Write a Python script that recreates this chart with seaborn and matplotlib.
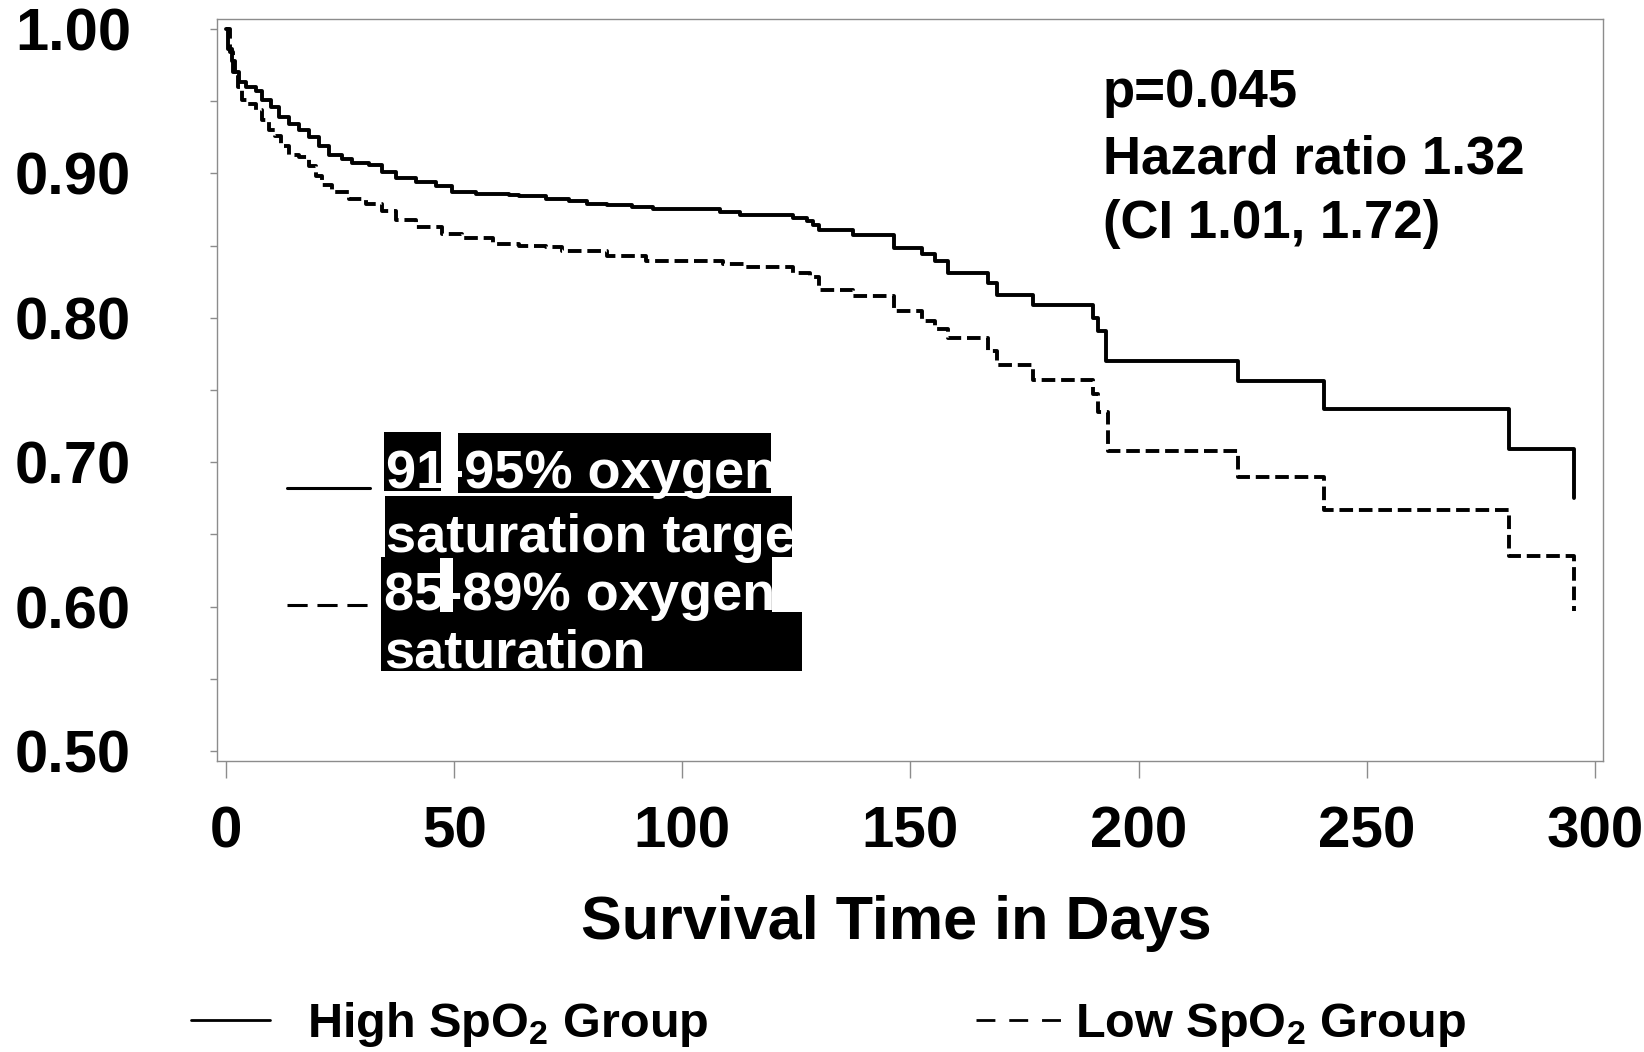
import matplotlib
matplotlib.use("Agg")
import matplotlib.pyplot as plt
from matplotlib import font_manager
from matplotlib.lines import Line2D
from matplotlib.patches import Rectangle
import pandas as pd
import seaborn as sns

# Kaplan-Meier step estimates (day of step, survival from that day on)
days_high = [0, 0.5, 1.2, 2.0, 2.8, 4.3, 6.5, 7.9, 9.8, 11.5, 13.7, 15.9, 18.1, 20.3,
             22.5, 25.4, 27.6, 31.3, 34.2, 37.2, 41.6, 46.0, 49.5, 54.8, 62.0, 64.3,
             70.2, 75.2, 79.0, 83.4, 89.0, 93.5, 108.2, 112.6, 124.3, 127.3, 128.7,
             130.0, 137.5, 146.3, 152.5, 155.4, 158.3, 167.0, 169.0, 176.8, 190.0,
             191.0, 192.8, 221.8, 240.6, 281.3, 295.4]
surv_high = [1.000, 0.986, 0.978, 0.970, 0.963, 0.960, 0.957, 0.951, 0.946, 0.939,
             0.934, 0.930, 0.925, 0.919, 0.913, 0.910, 0.907, 0.906, 0.901, 0.897,
             0.894, 0.891, 0.887, 0.886, 0.885, 0.884, 0.882, 0.881, 0.879, 0.878,
             0.877, 0.875, 0.873, 0.871, 0.869, 0.867, 0.864, 0.861, 0.857, 0.848,
             0.844, 0.839, 0.831, 0.824, 0.816, 0.809, 0.800, 0.791, 0.770, 0.756,
             0.737, 0.709, 0.675]

days_low = [0, 0.9, 1.6, 2.7, 3.5, 4.9, 6.5, 7.9, 9.3, 10.8, 12.0, 13.7, 15.9, 18.1,
            19.6, 21.0, 23.2, 26.9, 30.6, 34.2, 37.2, 41.6, 47.4, 51.8, 58.4, 64.3,
            70.2, 73.6, 83.4, 92.0, 109.0, 114.0, 124.3, 128.0, 130.0, 137.5, 146.3,
            152.5, 155.4, 158.3, 167.0, 169.0, 176.8, 190.0, 191.0, 193.2, 221.8,
            240.6, 281.3, 295.4]
surv_low = [1.000, 0.984, 0.970, 0.960, 0.951, 0.948, 0.944, 0.937, 0.930, 0.926,
            0.919, 0.913, 0.911, 0.905, 0.898, 0.892, 0.887, 0.882, 0.879, 0.874,
            0.868, 0.863, 0.858, 0.855, 0.851, 0.850, 0.849, 0.846, 0.843, 0.839,
            0.837, 0.835, 0.831, 0.828, 0.819, 0.815, 0.805, 0.798, 0.792, 0.786,
            0.777, 0.767, 0.757, 0.747, 0.735, 0.708, 0.690, 0.667, 0.635, 0.597]

x_ticks = [0, 50, 100, 150, 200, 250, 300]
y_ticks = [0.50, 0.55, 0.60, 0.65, 0.70, 0.75, 0.80, 0.85, 0.90, 0.95, 1.00]
y_tick_labels = ["0.50", "", "0.60", "", "0.70", "", "0.80", "", "0.90", "", "1.00"]
x_label = "Survival Time in Days"
stats_lines = ["p=0.045", "Hazard ratio 1.32", "(CI 1.01, 1.72)"]
target_labels = ["91-95% oxygen", "saturation target", "85-89% oxygen", "saturation"]
group_labels = ["High SpO$_2$ Group", "Low SpO$_2$ Group"]

sns.set_theme(style="white")
plt.rcParams["font.family"] = ["Liberation Sans", "DejaVu Sans"]
plt.rcParams["font.weight"] = "bold"
plt.rcParams["mathtext.fontset"] = "custom"
plt.rcParams["mathtext.rm"] = "Liberation Sans:bold"
plt.rcParams["mathtext.it"] = "Liberation Sans:bold"
plt.rcParams["mathtext.bf"] = "Liberation Sans:bold"
plt.rcParams["mathtext.default"] = "rm"


def has_font(name):
    try:
        font_manager.findfont(font_manager.FontProperties(family=name, weight="bold"),
                              fallback_to_default=False)
        return True
    except ValueError:
        return False


W, H = 1644, 1052
fig = plt.figure(figsize=(W / 100, H / 100), dpi=100)


def fx(px):
    return px / W


def fy(py):
    return 1 - py / H


ax = fig.add_axes([fx(217), fy(761), fx(1603) - fx(217), fy(19) - fy(761)])

df = pd.concat([
    pd.DataFrame({"day": days_high, "survival": surv_high, "group": "high"}),
    pd.DataFrame({"day": days_low, "survival": surv_low, "group": "low"}),
], ignore_index=True)

sns.lineplot(data=df, x="day", y="survival", style="group",
             dashes={"high": "", "low": (3.5, 1.5)}, color="black", linewidth=2.8,
             estimator=None, sort=False, drawstyle="steps-post", legend=False, ax=ax)

ax.set_xlim(-2.0, 301.8)
ax.set_ylim(0.4931, 1.0069)

edge = "#8c8c8c"
for sp in ax.spines.values():
    sp.set_visible(True)
    sp.set_color(edge)
    sp.set_linewidth(1.0)

ax.set_xticks(x_ticks)
ax.set_xticklabels([str(v) for v in x_ticks])
ax.set_yticks(y_ticks)
ax.set_yticklabels(y_tick_labels)
ax.tick_params(axis="x", bottom=True, direction="out", length=12, width=1, color=edge,
               pad=20, labelsize=42, labelcolor="black")
ax.tick_params(axis="y", left=True, direction="out", length=5, width=1, color=edge,
               pad=57, labelsize=43, labelcolor="black")
for lab in ax.get_xticklabels() + ax.get_yticklabels():
    lab.set_fontweight("bold")

ax.set_ylabel("")
ax.set_xlabel(x_label, fontsize=44, fontweight="bold", color="black")
ax.xaxis.set_label_coords(0.49, -0.181)

# statistics block
for txt, base in zip(stats_lines, [107, 173, 238]):
    fig.text(fx(1103), fy(base), txt, fontsize=38, fontweight="bold",
             ha="left", va="baseline", color="black")

# in-plot key with reversed (white on black) labels
boxes = [(384, 432, 441, 491), (458, 433, 771, 493), (385, 496, 792, 557),
         (381, 557, 772, 612), (381, 612, 802, 671)]
for x0, y0, x1, y1 in boxes:
    fig.add_artist(Rectangle((fx(x0), fy(y1)), fx(x1) - fx(x0), fy(y0) - fy(y1),
                             transform=fig.transFigure, facecolor="black",
                             edgecolor="none", zorder=3))
fig.add_artist(Rectangle((fx(440), fy(612)), fx(453) - fx(440), fy(558) - fy(612),
                         transform=fig.transFigure, facecolor="white",
                         edgecolor="none", zorder=3.5))
for txt, (x0, base) in zip(target_labels, [(386, 488), (386, 552), (384, 610), (384, 667)]):
    fig.text(fx(x0), fy(base), txt, fontsize=39, fontweight="bold", color="white",
             ha="left", va="baseline", zorder=4)

fig.add_artist(Line2D([fx(287), fx(370)], [fy(488), fy(488)], transform=fig.transFigure,
                      color="black", linewidth=2.2, zorder=4))
fig.add_artist(Line2D([fx(287), fx(370)], [fy(605), fy(605)], transform=fig.transFigure,
                      color="black", linewidth=2.2, linestyle=(0, (6.6, 3.2)), zorder=4))

# group key under the axis
if has_font("Liberation Sans Narrow"):
    key_family, key_size = ["Liberation Sans Narrow", "Liberation Sans"], 42
else:
    key_family, key_size = ["Liberation Sans", "DejaVu Sans"], 35

fig.add_artist(Line2D([fx(191), fx(270)], [fy(1020), fy(1020)], transform=fig.transFigure,
                      color="black", linewidth=2.0))
fig.add_artist(Line2D([fx(976), fx(1061)], [fy(1020), fy(1020)], transform=fig.transFigure,
                      color="black", linewidth=2.0, linestyle=(0, (6.8, 5.0))))
fig.text(fx(307), fy(1037), group_labels[0], fontsize=key_size, fontweight="bold",
         family=key_family, ha="left", va="baseline", color="black")
fig.text(fx(1075), fy(1037), group_labels[1], fontsize=key_size, fontweight="bold",
         family=key_family, ha="left", va="baseline", color="black")

fig.savefig("out.png", dpi=100, facecolor="white")
